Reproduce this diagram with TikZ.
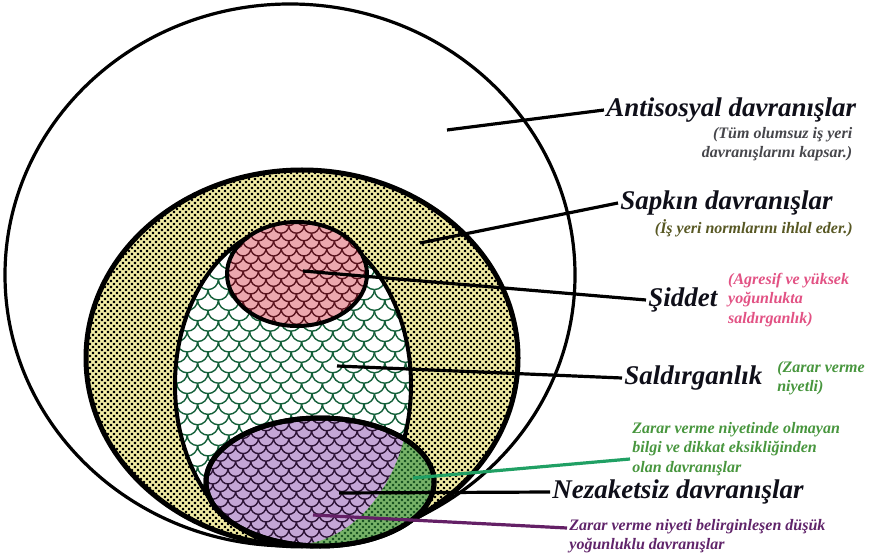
\documentclass[tikz,border=0pt]{standalone}
\usepackage{fontspec}
\setmainfont{Liberation Serif}
\usepackage{tikz}
\usetikzlibrary{patterns,positioning,calc}
\usepackage{xcolor}
\definecolor{sapkinfill}{RGB}{244,238,165}
\definecolor{pinkfill}{RGB}{236,168,174}
\definecolor{purplefill}{RGB}{196,166,214}
\definecolor{kabafill}{RGB}{120,180,105}
\definecolor{scalegreen}{RGB}{20,96,58}
\definecolor{scalered}{RGB}{90,20,30}
\definecolor{scalepurple}{RGB}{45,20,55}
\definecolor{dotgreen}{RGB}{25,85,35}
\definecolor{titlecol}{RGB}{15,15,25}
\definecolor{notegray}{RGB}{70,70,75}
\definecolor{noteolive}{RGB}{88,88,36}
\definecolor{notepink}{RGB}{226,82,132}
\definecolor{notegreen}{RGB}{72,150,62}
\definecolor{notepurple}{RGB}{96,36,106}
\definecolor{leadgreen}{RGB}{32,160,100}
\definecolor{leadpurple}{RGB}{100,32,102}

% fish scale tiles
\newcommand{\makescales}[2]{%
  \pgfdeclarepatternformonly{#1}{\pgfqpoint{-1pt}{-1pt}}%
    {\pgfqpoint{\dimexpr2\dimexpr#2\relax+1pt\relax}{\dimexpr2\dimexpr#2\relax+1pt\relax}}%
    {\pgfqpoint{\dimexpr2\dimexpr#2\relax\relax}{\dimexpr2\dimexpr#2\relax\relax}}{%
    \pgfsetlinewidth{0.7pt}
    \pgfpathmoveto{\pgfqpoint{0pt}{\dimexpr2\dimexpr#2\relax\relax}}
    \pgfpatharc{180}{360}{#2}
    \pgfpathmoveto{\pgfqpoint{0pt}{0pt}}
    \pgfpatharc{270}{360}{#2}
    \pgfpathmoveto{\pgfqpoint{#2}{#2}}
    \pgfpatharc{180}{270}{#2}
    \pgfusepath{stroke}}}
\makescales{smallscales}{3.8pt}
\makescales{bigscales}{5.2pt}

% staggered square dots
\pgfdeclarepatternformonly{squaredots}{\pgfqpoint{-1pt}{-1pt}}{\pgfqpoint{4pt}{4pt}}{\pgfqpoint{3pt}{3pt}}{%
    \pgfpathrectangle{\pgfqpoint{-0.6pt}{-0.6pt}}{\pgfqpoint{1.2pt}{1.2pt}}
    \pgfpathrectangle{\pgfqpoint{0.9pt}{0.9pt}}{\pgfqpoint{1.2pt}{1.2pt}}
    \pgfusepath{fill}}

\tikzset{
    setline/.style={
        draw=black,
        line width=2pt
    },
    outerset/.style={
        setline,
        line width=1.6pt,
        fill=white
    },
    sapkinset/.style={
        setline,
        line width=2.5pt,
        preaction={fill=sapkinfill},
        pattern=squaredots,
        pattern color=black
    },
    saldiriset/.style={
        setline,
        preaction={fill=white},
        pattern=bigscales,
        pattern color=scalegreen
    },
    siddetset/.style={
        setline,
        preaction={fill=pinkfill},
        pattern=smallscales,
        pattern color=scalered
    },
    nezaketset/.style={
        setline,
        line width=2.5pt,
        preaction={fill=purplefill},
        pattern=smallscales,
        pattern color=scalepurple
    },
    leader/.style={
        line width=1.6pt
    },
    bigtitle/.style={
        font=\fontsize{13.5}{15}\selectfont\bfseries\itshape,
        text=titlecol,
        inner sep=1pt
    },
    note/.style={
        font=\fontsize{8}{9.6}\selectfont\bfseries\itshape,
        inner sep=1pt
    }
}

\begin{document}
\begin{tikzpicture}[x=0.5pt,y=-0.5pt]
    \useasboundingbox (0,0) rectangle (870,560);

    % Sets
    \draw[outerset] (290,275) ellipse [x radius=285, y radius=271];
    \draw[sapkinset] (302,358) ellipse [x radius=216, y radius=188];
    \draw[saldiriset] (293,385) ellipse [x radius=118, y radius=160];
    \draw[siddetset] (297,274) ellipse [x radius=70, y radius=52];
    \draw[nezaketset] (320,482) ellipse [x radius=114, y radius=64];
    % part of Nezaketsiz outside Saldirganlik
    \begin{scope}
        \clip (320,482) ellipse [x radius=114, y radius=64];
        \fill[even odd rule, preaction={fill=kabafill}, pattern=squaredots, pattern color=dotgreen]
            (0,0) rectangle (870,560) (293,385) ellipse [x radius=118, y radius=160];
    \end{scope}
    \draw[setline, line width=2.5pt] (320,482) ellipse [x radius=114, y radius=64];

    % Labels
    \node[bigtitle, anchor=west] (antiLbl) at (604,110) {Antisosyal davranışlar};
    \node[note, text=notegray, align=right, anchor=north east] (antiNote)
        at ([xshift=-2pt]antiLbl.south east) {(Tüm olumsuz iş yeri\\davranışlarını kapsar.)};
    \node[bigtitle, anchor=west] (sapLbl) at (618,203) {Sapkın davranışlar};
    \node[note, text=noteolive, anchor=north east] (sapNote)
        at ([xshift=10pt]sapLbl.south east) {(İş yeri normlarını ihlal eder.)};
    \node[bigtitle, anchor=west] (siddetLbl) at (646,300) {Şiddet};
    \node[note, text=notepink, align=left, right=3pt of siddetLbl] (siddetNote)
        {(Agresif ve yüksek\\yoğunlukta\\saldırganlık)};
    \node[bigtitle, anchor=west] (saldLbl) at (622,378) {Saldırganlık};
    \node[note, text=notegreen, align=left, right=5pt of saldLbl] (saldNote)
        {(Zarar verme\\niyetli)};
    \node[note, text=notegreen, align=left, anchor=west] (kabaNote) at (630,449)
        {Zarar verme niyetinde olmayan\\bilgi ve dikkat eksikliğinden\\olan davranışlar};
    \node[bigtitle, anchor=west] (nezLbl) at (550,492) {Nezaketsiz davranışlar};
    \node[note, text=notepurple, align=left, anchor=west] (nezNote) at (567,536)
        {Zarar verme niyeti belirginleşen düşük\\yoğunluklu davranışlar};

    % Leader lines
    \coordinate (antiPt) at (447,130);
    \coordinate (sapPt) at (420,243);
    \coordinate (siddetPt) at (303,271);
    \coordinate (saldPt) at (337,366);
    \coordinate (nezPt) at (339,493);
    \coordinate (kabaPt) at (413,478);
    \coordinate (dusukPt) at (313,515);
    \draw[leader] (antiPt) -- (antiLbl.west);
    \draw[leader] (sapPt) -- (sapLbl.west);
    \draw[leader] (siddetPt) -- (siddetLbl.west);
    \draw[leader] (saldPt) -- (saldLbl.west);
    \draw[leader] (nezPt) -- (nezLbl.west);
    \draw[leader, leadgreen] (kabaPt) -- ([yshift=-5pt]kabaNote.west);
    \draw[leader, leadpurple] (dusukPt) -- ([yshift=4pt]nezNote.west);
\end{tikzpicture}
\end{document}
